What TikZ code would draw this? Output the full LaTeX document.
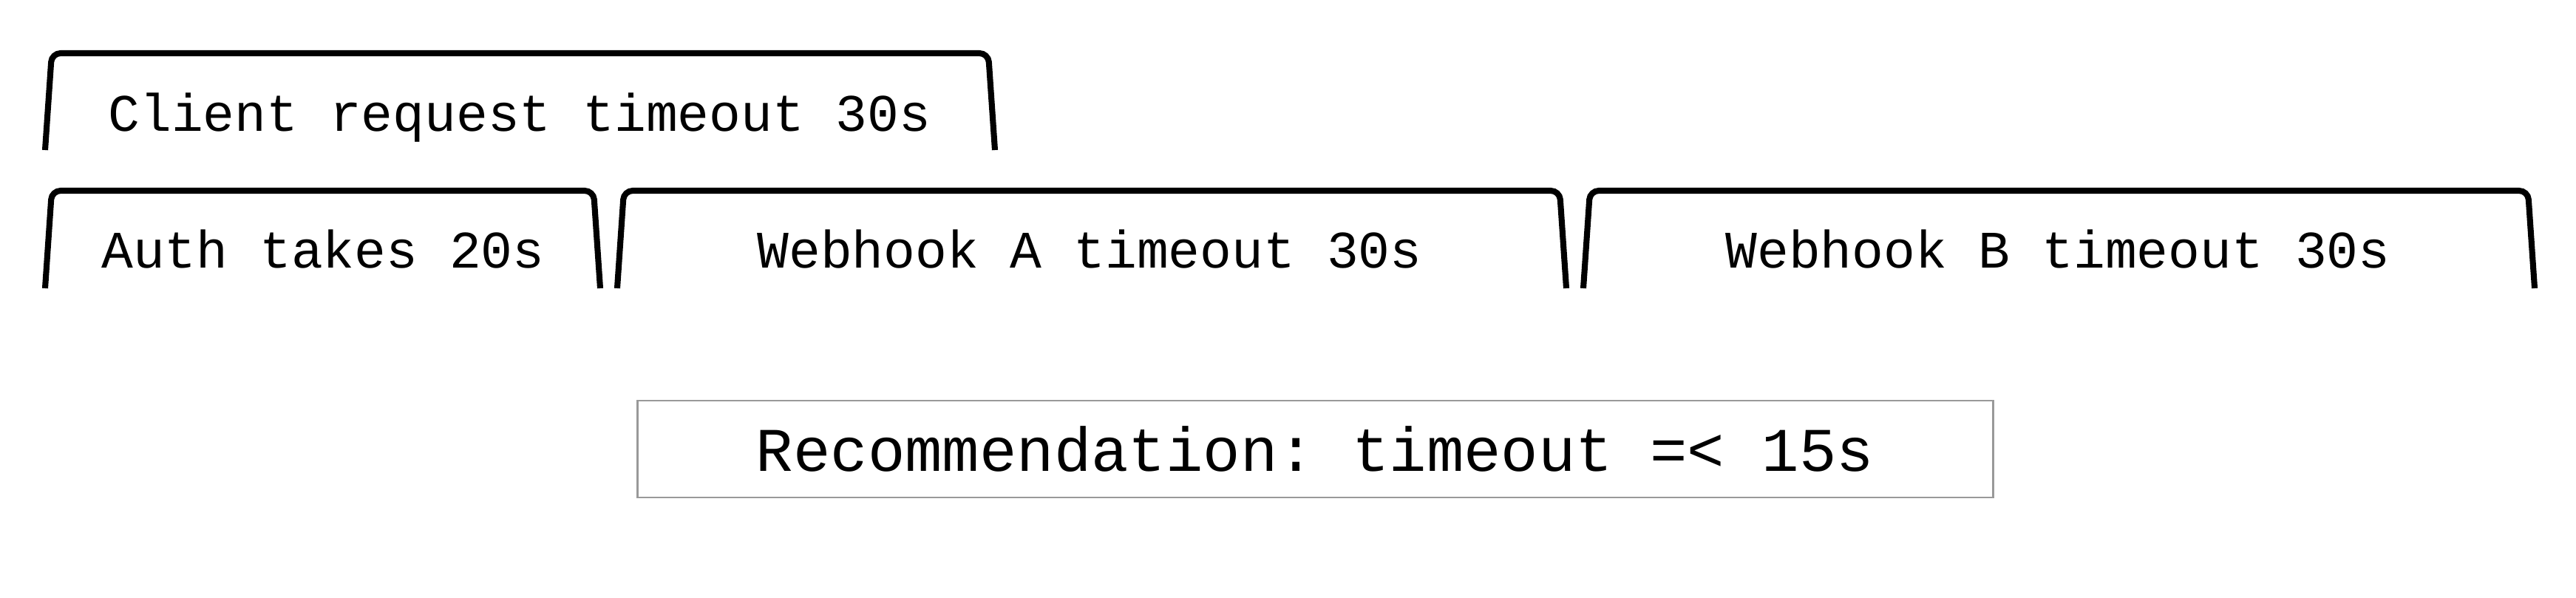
\documentclass[tikz,border=0pt]{standalone}
\usepackage{fontspec}
\setmonofont{Liberation Mono}
\usetikzlibrary{positioning}

\begin{document}
\begin{tikzpicture}
    [brk/.style={line width=2.3pt, rounded corners=1.2mm},
     lbl/.style={font=\ttfamily\fontsize{20.3}{24}\selectfont,
                 anchor=base, inner sep=0},
     rec/.style={draw=black!40, line width=0.85pt,
                 minimum width=18.34cm, minimum height=1.31cm,
                 font=\ttfamily\fontsize{23.9}{28}\selectfont}]
    \useasboundingbox (0,0) rectangle (34.85,-8.09);
    % open bracket: left, right, top, bottom
    \def\brk#1#2#3#4{\draw[brk] (#1,#4) -- (#1+0.09,#3) -- (#2-0.09,#3) -- (#2,#4);}

    \brk{0.61}{13.46}{-0.72}{-2.03}
    \node[lbl] (client) at (7.03,-1.78) {Client request timeout 30s};

    \brk{0.61}{8.12}{-2.58}{-3.90}
    \brk{8.35}{21.19}{-2.58}{-3.90}
    \brk{21.42}{34.29}{-2.58}{-3.90}
    \node[lbl] (auth) at (4.37,-3.63) {Auth takes 20s};
    \node[lbl] (hooka) at (14.74,-3.63) {Webhook A timeout 30s};
    \node[lbl] (hookb) at (27.84,-3.63) {Webhook B timeout 30s};

    \node[rec] (advice) at (17.79,-6.075) {Recommendation: timeout =< 15s};
\end{tikzpicture}
\end{document}
